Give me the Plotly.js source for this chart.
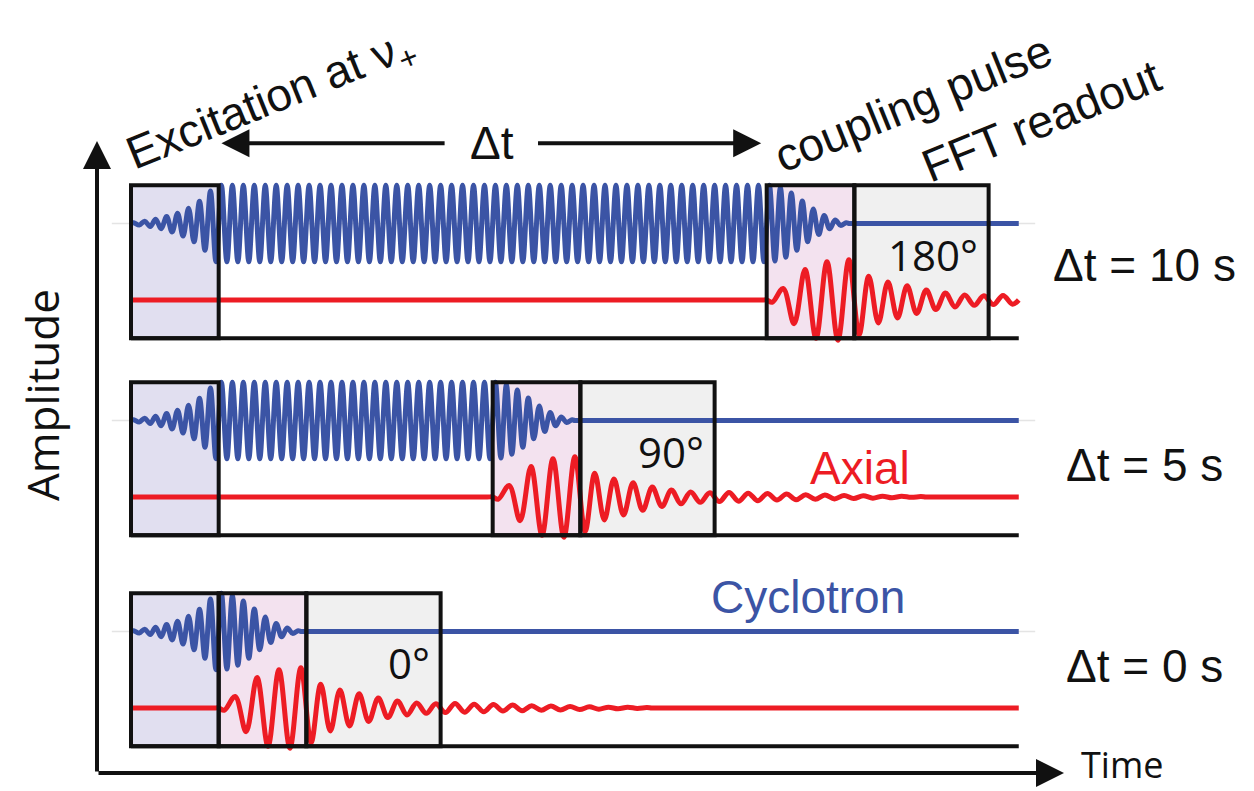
<!DOCTYPE html>
<html><head><meta charset="utf-8">
<script src="https://cdn.plot.ly/plotly-3.0.1.min.js"></script>
<style>html,body{margin:0;padding:0;background:#fff}#chart{width:1254px;height:791px}</style>
</head><body><div id="chart"></div>
<script>
// ---------- values ----------
// time in s (excitation starts at t = 0); amplitude in units of the full cyclotron amplitude
const panelDeltaT = [10, 5, 0];
const panelLabels = ['Δt = 10 s', 'Δt = 5 s', 'Δt = 0 s'];
const phaseLabels = ['180°', '90°', '0°'];
const excitationDuration = 1.6;
const couplingDuration = 1.6;
const readoutDuration = 2.45;
const traceEnd = 16.2;
const cyclotronBaseline = 2;
const axialBaseline = 0;
const cyclotronHalfPeriod = 0.1;
const axialCouplingHalfPeriod = 0.2;
const axialReadoutHalfPeriod = 0.175;
// successive peak heights (one per half cycle)
const cyclotronGrowthPeaks = [0.02, 0.04, 0.06, 0.08, 0.11, 0.14, 0.18, 0.22, 0.27, 0.33, 0.4, 0.48, 0.58, 0.7, 0.85, 1.0];
const cyclotronPlateauPeak = 1.0;
const cyclotronDecayPeaks = [1.0, 0.98, 0.94, 0.88, 0.8, 0.7, 0.59, 0.48, 0.38, 0.29, 0.21, 0.14, 0.09, 0.05, 0.02];
const axialCouplingPeaks = [0.06, 0.3, 0.62, 0.8, 1.0, 1.0, 1.05, 1.05];
const axialReadoutPeaks = [0.9, 0.62, 0.6, 0.47, 0.47, 0.37, 0.35, 0.26, 0.25, 0.18, 0.18, 0.13, 0.14, 0.11];
const axialTailPeaks = [0.12, 0.12, 0.11, 0.1, 0.1, 0.09, 0.08, 0.08, 0.07, 0.06, 0.06, 0.05, 0.05, 0.04, 0.04, 0.03, 0.03, 0.02, 0.02, 0.02, 0.01, 0.01];

// ---------- styles ----------
const BLUE = '#3b54a5', RED = '#ed1c24', INK = '#111111';
const SANS = 'Liberation Sans, Arial, sans-serif';
const OPEN = 'Open Sans, Liberation Sans, sans-serif';
const yAxisIds = ['y', 'y2', 'y3'];
const yDomains = [[0.5627, 0.7755], [0.3137, 0.5264], [0.0469, 0.2597]];
const deltaLabelY = [0.92, 0.84, 1.1];
const PAD = 0.1; // short flat run that keeps the spline level at segment joins

function addPeaks(xs, ys, startT, halfPeriod, peaks, baseline, sign, limit) {
  let s = sign;
  for (let k = 0; k < peaks.length; k++) {
    const t = startT + (k + 0.5) * halfPeriod;
    if (limit !== undefined && t > limit) break;
    xs.push(t); ys.push(baseline + s * peaks[k]);
    s = -s;
  }
  return s;
}

const traces = [], shapes = [], annotations = [];

panelDeltaT.forEach((dt, i) => {
  const yref = yAxisIds[i];
  const cs = excitationDuration + dt;           // coupling start
  const rs = cs + couplingDuration;             // readout start
  const re = rs + readoutDuration;              // readout end

  // cyclotron
  const bx = [0], by = [cyclotronBaseline];
  let s = addPeaks(bx, by, 0, cyclotronHalfPeriod, cyclotronGrowthPeaks, cyclotronBaseline, 1);
  const plateau = new Array(Math.round(dt / cyclotronHalfPeriod)).fill(cyclotronPlateauPeak);
  s = addPeaks(bx, by, excitationDuration, cyclotronHalfPeriod, plateau, cyclotronBaseline, s);
  addPeaks(bx, by, cs, cyclotronHalfPeriod, cyclotronDecayPeaks, cyclotronBaseline, s);
  const decayEnd = cs + cyclotronDecayPeaks.length * cyclotronHalfPeriod;
  bx.push(decayEnd, decayEnd + PAD, traceEnd);
  by.push(cyclotronBaseline, cyclotronBaseline, cyclotronBaseline);
  traces.push({x: bx, y: by, yaxis: yref, xaxis: 'x', mode: 'lines', hoverinfo: 'skip',
    line: {color: BLUE, width: 5, shape: 'spline', smoothing: 1, simplify: false}});

  // axial
  const rx = [0, cs - PAD, cs], ry = [axialBaseline, axialBaseline, axialBaseline];
  let r = addPeaks(rx, ry, cs, axialCouplingHalfPeriod, axialCouplingPeaks, axialBaseline, -1);
  r = addPeaks(rx, ry, rs, axialReadoutHalfPeriod, axialReadoutPeaks, axialBaseline, r);
  addPeaks(rx, ry, re, axialReadoutHalfPeriod, axialTailPeaks, axialBaseline, r, traceEnd);
  const tailEnd = re + axialTailPeaks.length * axialReadoutHalfPeriod;
  if (tailEnd < traceEnd) {
    rx.push(tailEnd, tailEnd + PAD, traceEnd); ry.push(axialBaseline, axialBaseline, axialBaseline);
  } else {
    rx.push(traceEnd); ry.push(axialBaseline);
  }
  traces.push({x: rx, y: ry, yaxis: yref, xaxis: 'x', mode: 'lines', hoverinfo: 'skip',
    line: {color: RED, width: 5, shape: 'spline', smoothing: 1, simplify: false}});

  // boxes
  const boxes = [[0, excitationDuration, '#e1dff0'], [cs, rs, '#f3e2ef'], [rs, re, '#f0f0f0']];
  shapes.push({type: 'line', xref: 'x', yref: yref, x0: -0.35, x1: traceEnd + 0.3, y0: cyclotronBaseline, y1: cyclotronBaseline,
    line: {color: '#e4e4e4', width: 1.5}, layer: 'below'});
  boxes.forEach(b => shapes.push({type: 'rect', xref: 'x', yref: yref, x0: b[0], x1: b[1], y0: -1, y1: 3,
    fillcolor: b[2], line: {width: 0}, layer: 'below'}));
  boxes.forEach(b => shapes.push({type: 'rect', xref: 'x', yref: yref, x0: b[0], x1: b[1], y0: -1, y1: 3,
    fillcolor: 'rgba(0,0,0,0)', line: {color: INK, width: 4}, layer: 'above'}));
  shapes.push({type: 'line', xref: 'x', yref: yref, x0: 0, x1: traceEnd, y0: -1, y1: -1,
    line: {color: INK, width: 4}, layer: 'above'});

  annotations.push({xref: 'x', yref: yref, x: re - 0.16, y: 1.2, text: phaseLabels[i], showarrow: false,
    xanchor: 'right', yanchor: 'middle', font: {family: OPEN, size: 42, color: INK}});
  annotations.push({xref: 'x', yref: yref, x: 18.5, y: deltaLabelY[i], text: panelLabels[i], showarrow: false,
    xanchor: 'center', yanchor: 'middle', font: {family: SANS, size: 46, color: INK}});
});

annotations.push({xref: 'x', yref: 'y2', x: 13.3, y: 0.76, text: 'Axial', showarrow: false,
  xanchor: 'center', yanchor: 'middle', font: {family: SANS, size: 46, color: RED}});
annotations.push({xref: 'x', yref: 'y3', x: 12.35, y: 2.9, text: 'Cyclotron', showarrow: false,
  xanchor: 'center', yanchor: 'middle', font: {family: SANS, size: 46, color: BLUE}});

// axes arrows
const arrowStyle = {showarrow: true, arrowhead: 2, arrowsize: 1.4, arrowwidth: 4, arrowcolor: INK, text: '', standoff: 0, startstandoff: 0};
annotations.push(Object.assign({xref: 'paper', yref: 'paper', x: 97 / 1254, y: 1 - 141 / 791, axref: 'pixel', ayref: 'pixel', ax: 0, ay: 632}, arrowStyle));
annotations.push(Object.assign({xref: 'paper', yref: 'paper', x: 1064 / 1254, y: 1 - 773 / 791, axref: 'pixel', ayref: 'pixel', ax: -967, ay: 0}, arrowStyle));
// Δt arrows (top panel)
annotations.push(Object.assign({xref: 'x', yref: 'paper', x: excitationDuration + 0.05, y: 0.819, axref: 'x', ayref: 'pixel', ax: 5.75, ay: 0}, arrowStyle));
annotations.push(Object.assign({xref: 'x', yref: 'paper', x: excitationDuration + panelDeltaT[0] - 0.1, y: 0.819, axref: 'x', ayref: 'pixel', ax: 7.4, ay: 0}, arrowStyle));
annotations.push({xref: 'x', yref: 'paper', x: 6.58, y: 0.819, text: 'Δt', showarrow: false,
  xanchor: 'center', yanchor: 'middle', font: {family: SANS, size: 46, color: INK}});

// titles
annotations.push({xref: 'paper', yref: 'paper', x: 271 / 1254, y: 1 - 102 / 791, text: 'Excitation at ν<sub>+</sub>', showarrow: false,
  textangle: -22, xanchor: 'center', yanchor: 'middle', font: {family: SANS, size: 46, color: INK}});
annotations.push({xref: 'paper', yref: 'paper', x: 913 / 1254, y: 1 - 103 / 791, text: 'coupling pulse', showarrow: false,
  textangle: -22, xanchor: 'center', yanchor: 'middle', font: {family: SANS, size: 46, color: INK}});
annotations.push({xref: 'paper', yref: 'paper', x: 1041 / 1254, y: 1 - 121 / 791, text: 'FFT readout', showarrow: false,
  textangle: -22, xanchor: 'center', yanchor: 'middle', font: {family: SANS, size: 46, color: INK}});
annotations.push({xref: 'paper', yref: 'paper', x: 42 / 1254, y: 1 - 395 / 791, text: 'Amplitude', showarrow: false,
  textangle: -90, xanchor: 'center', yanchor: 'middle', font: {family: OPEN, size: 44, color: INK}});
annotations.push({xref: 'paper', yref: 'paper', x: 1122 / 1254, y: 0, text: 'Time', showarrow: false,
  xanchor: 'center', yanchor: 'bottom', font: {family: OPEN, size: 36, color: INK}});

const hidden = {visible: false, showgrid: false, zeroline: false, fixedrange: true};
const layout = {
  width: 1254, height: 791, margin: {l: 0, r: 0, t: 0, b: 0},
  paper_bgcolor: '#ffffff', plot_bgcolor: 'rgba(0,0,0,0)', showlegend: false,
  xaxis: Object.assign({range: [-2.3905, 20.4927], domain: [0, 1]}, hidden),
  yaxis: Object.assign({domain: yDomains[0], range: [-1.2, 3.2], anchor: 'x'}, hidden),
  yaxis2: Object.assign({domain: yDomains[1], range: [-1.2, 3.2], anchor: 'x'}, hidden),
  yaxis3: Object.assign({domain: yDomains[2], range: [-1.2, 3.2], anchor: 'x'}, hidden),
  shapes: shapes, annotations: annotations
};
Plotly.newPlot('chart', traces, layout, {displayModeBar: false, staticPlot: true});
</script></body></html>
